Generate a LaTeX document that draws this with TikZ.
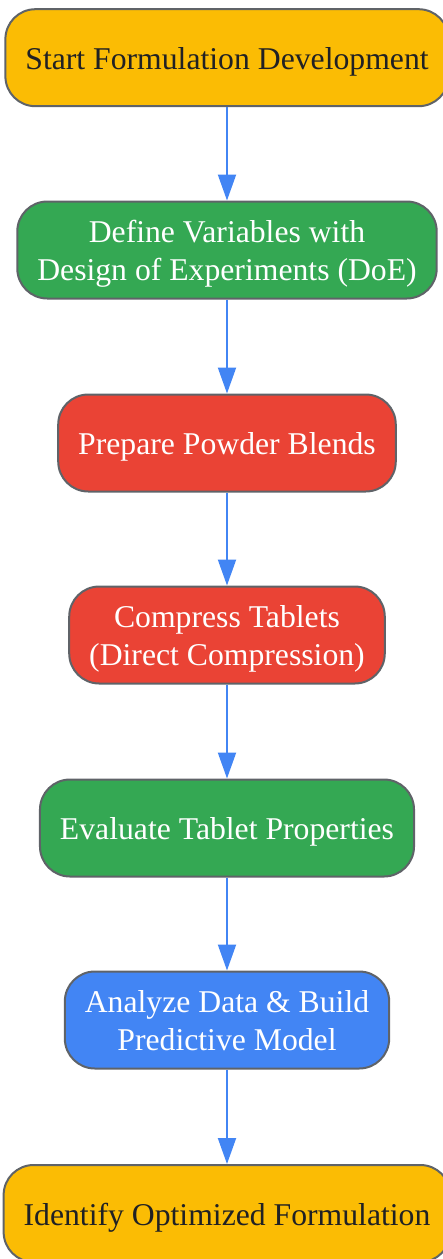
\documentclass[tikz,border=0pt]{standalone}
\usepackage{fontspec}
\usepackage{xcolor}
\setmainfont{Liberation Serif}
\usetikzlibrary{arrows.meta}

\definecolor{startyellow}{HTML}{FBBC04}
\definecolor{stepgreen}{HTML}{34A853}
\definecolor{stepred}{HTML}{EA4335}
\definecolor{stepblue}{HTML}{4285F4}
\definecolor{edgeblue}{HTML}{4285F4}
\definecolor{framegray}{HTML}{5F6368}
\definecolor{darktext}{HTML}{202124}

\begin{document}
\begin{tikzpicture}[x=1pt, y=1pt,
			stepbox/.style = {draw=framegray, line width=2pt, rounded corners=30pt,
				minimum height=97pt, inner xsep=20pt, align=center, text=white,
				text height=30pt, text depth=7pt,
				font=\fontsize{31.7}{38}\selectfont},
			twoline/.style = {text height=68pt},
			flow/.style = {draw=edgeblue, line width=2pt,
				-{Triangle[length=26pt, width=18pt]}}]
			\useasboundingbox (0,0) rectangle (443,-1259);
			
			\node[stepbox, fill=startyellow, text=darktext] (start)   at (227,-57.7)   {Start Formulation Development};
			\node[stepbox, twoline, fill=stepgreen]         (define)  at (227,-250)    {Define Variables with\\Design of Experiments (DoE)};
			\node[stepbox, fill=stepred]                    (blend)   at (227,-443)    {Prepare Powder Blends};
			\node[stepbox, twoline, fill=stepred]           (press)   at (227,-635)    {Compress Tablets\\(Direct Compression)};
			\node[stepbox, fill=stepgreen]                  (test)    at (227,-828)    {Evaluate Tablet Properties};
			\node[stepbox, twoline, fill=stepblue]          (model)   at (227,-1020)   {Analyze Data \& Build\\Predictive Model};
			\node[stepbox, fill=startyellow, text=darktext] (optimum) at (227,-1213.5) {Identify Optimized Formulation};
			
			\draw[flow] (start) -- (define);
			\draw[flow] (define) -- (blend);
			\draw[flow] (blend) -- (press);
			\draw[flow] (press) -- (test);
			\draw[flow] (test) -- (model);
			\draw[flow] (model) -- (optimum);
			\end{tikzpicture}
\end{document}
